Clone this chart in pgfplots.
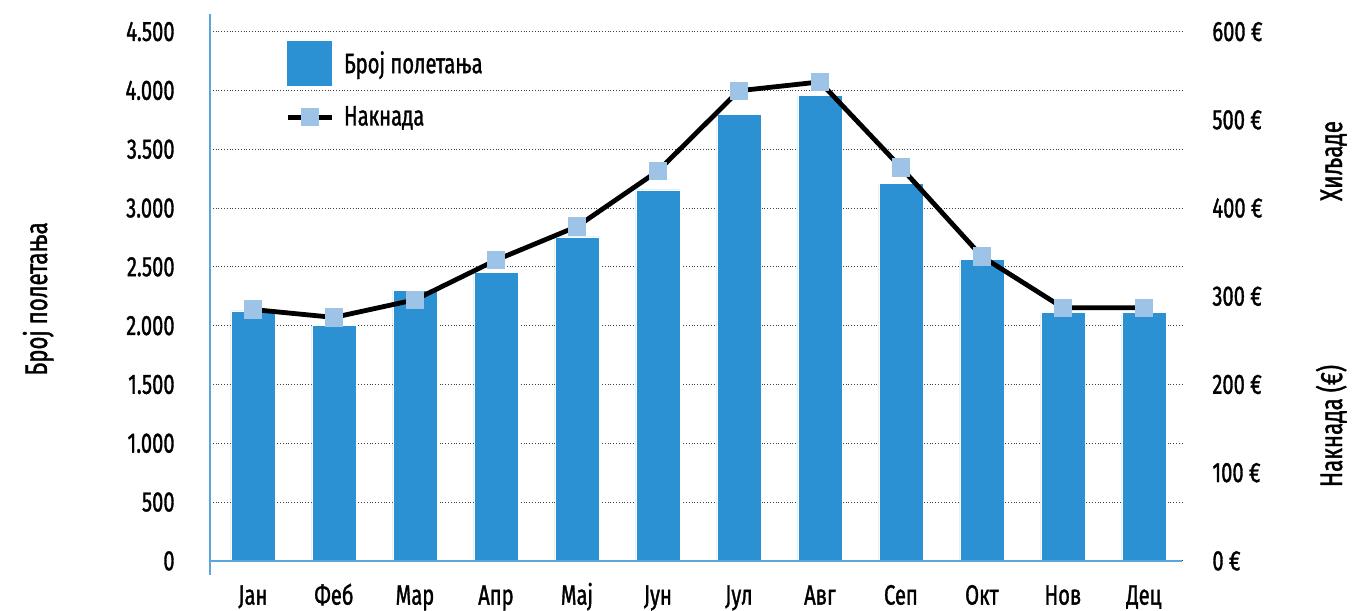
\documentclass[border=0pt]{standalone}
\usepackage{fontspec}
\setmainfont[FakeStretch=0.72, FakeBold=1.2]{Fira Sans}
\usepackage{pgfplots}
\pgfplotsset{compat=1.18}
\definecolor{barblue}{HTML}{2B91D3}
\definecolor{mk}{HTML}{9DC3E6}
\definecolor{axblue}{HTML}{5AA5DC}
\pgfplotsset{
  lineleg/.style={legend image code/.code={\draw[##1, mark repeat=2, mark phase=2] plot coordinates {(0pt,0pt) (11pt,0pt) (22pt,0pt)};}},
  barleg/.style={legend image code/.code={\fill[barblue] (0pt,-11pt) rectangle (22pt,11pt);}},
}
\begin{document}
\begin{tikzpicture}
\useasboundingbox (-105pt,-17.5pt) rectangle (571pt,287.5pt);
\begin{axis}[
  scale only axis, width=486pt, height=280.5pt,
  xmin=-0.53, xmax=11.47, ymin=-120, ymax=4650,
  axis lines*=left,
  x axis line style={draw=none},
  y axis line style={axblue, line width=0.8pt},
  xtick={0,...,11},
  xticklabels={Јан,Феб,Мар,Апр,Мај,Јун,Јул,Авг,Сеп,Окт,Нов,Дец},
  ytick={0,500,...,4500},
  yticklabels={0,500,1.000,1.500,2.000,2.500,3.000,3.500,4.000,4.500},
  major tick length=0pt,
  ymajorgrids,
  grid style={black!75, densely dotted, line width=0.5pt},
  tick label style={font=\fontsize{14}{16}\selectfont, inner sep=0pt},
  yticklabel style={anchor=east, xshift=-17.5pt},
  xticklabel style={anchor=base, yshift=-14.8pt},
]
\addplot[ybar, bar width=22pt, bar shift=0pt, fill=barblue, draw=white, line width=0.3pt] coordinates {
(0,2125) (1,2005) (2,2300) (3,2450) (4,2755) (5,3155) (6,3795) (7,3955) (8,3210) (9,2560) (10,2110) (11,2110)};
\draw[axblue, line width=0.8pt] (axis cs:-0.53,0) -- (axis cs:11.47,0);
\end{axis}
\begin{axis}[
  scale only axis, width=486pt, height=280.5pt,
  xmin=-0.53, xmax=11.47, ymin=-16, ymax=620,
  axis y line*=right,
  axis x line=none,
  y axis line style={draw=none},
  ytick={0,100,...,600},
  yticklabels={0 €,100 €,200 €,300 €,400 €,500 €,600 €},
  major tick length=0pt,
  tick label style={font=\fontsize{14}{16}\selectfont, inner sep=0pt},
  yticklabel style={anchor=west, xshift=15pt},
  legend style={at={(axis cs:0.32,594)}, anchor=north west, draw=none, fill=none,
    font=\fontsize{14}{16}\selectfont, row sep=5pt, nodes={inner sep=5pt}},
  legend cell align=left,
]
\addlegendimage{barleg}
\addlegendentry{Број полетања}
\addplot[black, line width=2.4pt, mark=square*, mark size=4.3pt, mark options={fill=mk, draw=mk, line width=0pt}, lineleg]
coordinates {(0,285) (1,276) (2,296) (3,341) (4,379) (5,442) (6,533) (7,543) (8,446) (9,345) (10,287) (11,287)};
\addlegendentry{Накнада}
\end{axis}
\node[rotate=90, anchor=base, inner sep=0pt, font=\fontsize{15.5}{17}\selectfont] at (-81.5pt,138pt) {Број полетања};
\node[rotate=90, anchor=base, inner sep=0pt, font=\fontsize{15.5}{17}\selectfont] at (566pt,207pt) {Хиљаде};
\node[rotate=90, anchor=base, inner sep=0pt, font=\fontsize{15.5}{17}\selectfont] at (566pt,74.5pt) {Накнада (€)};
\end{tikzpicture}
\end{document}
